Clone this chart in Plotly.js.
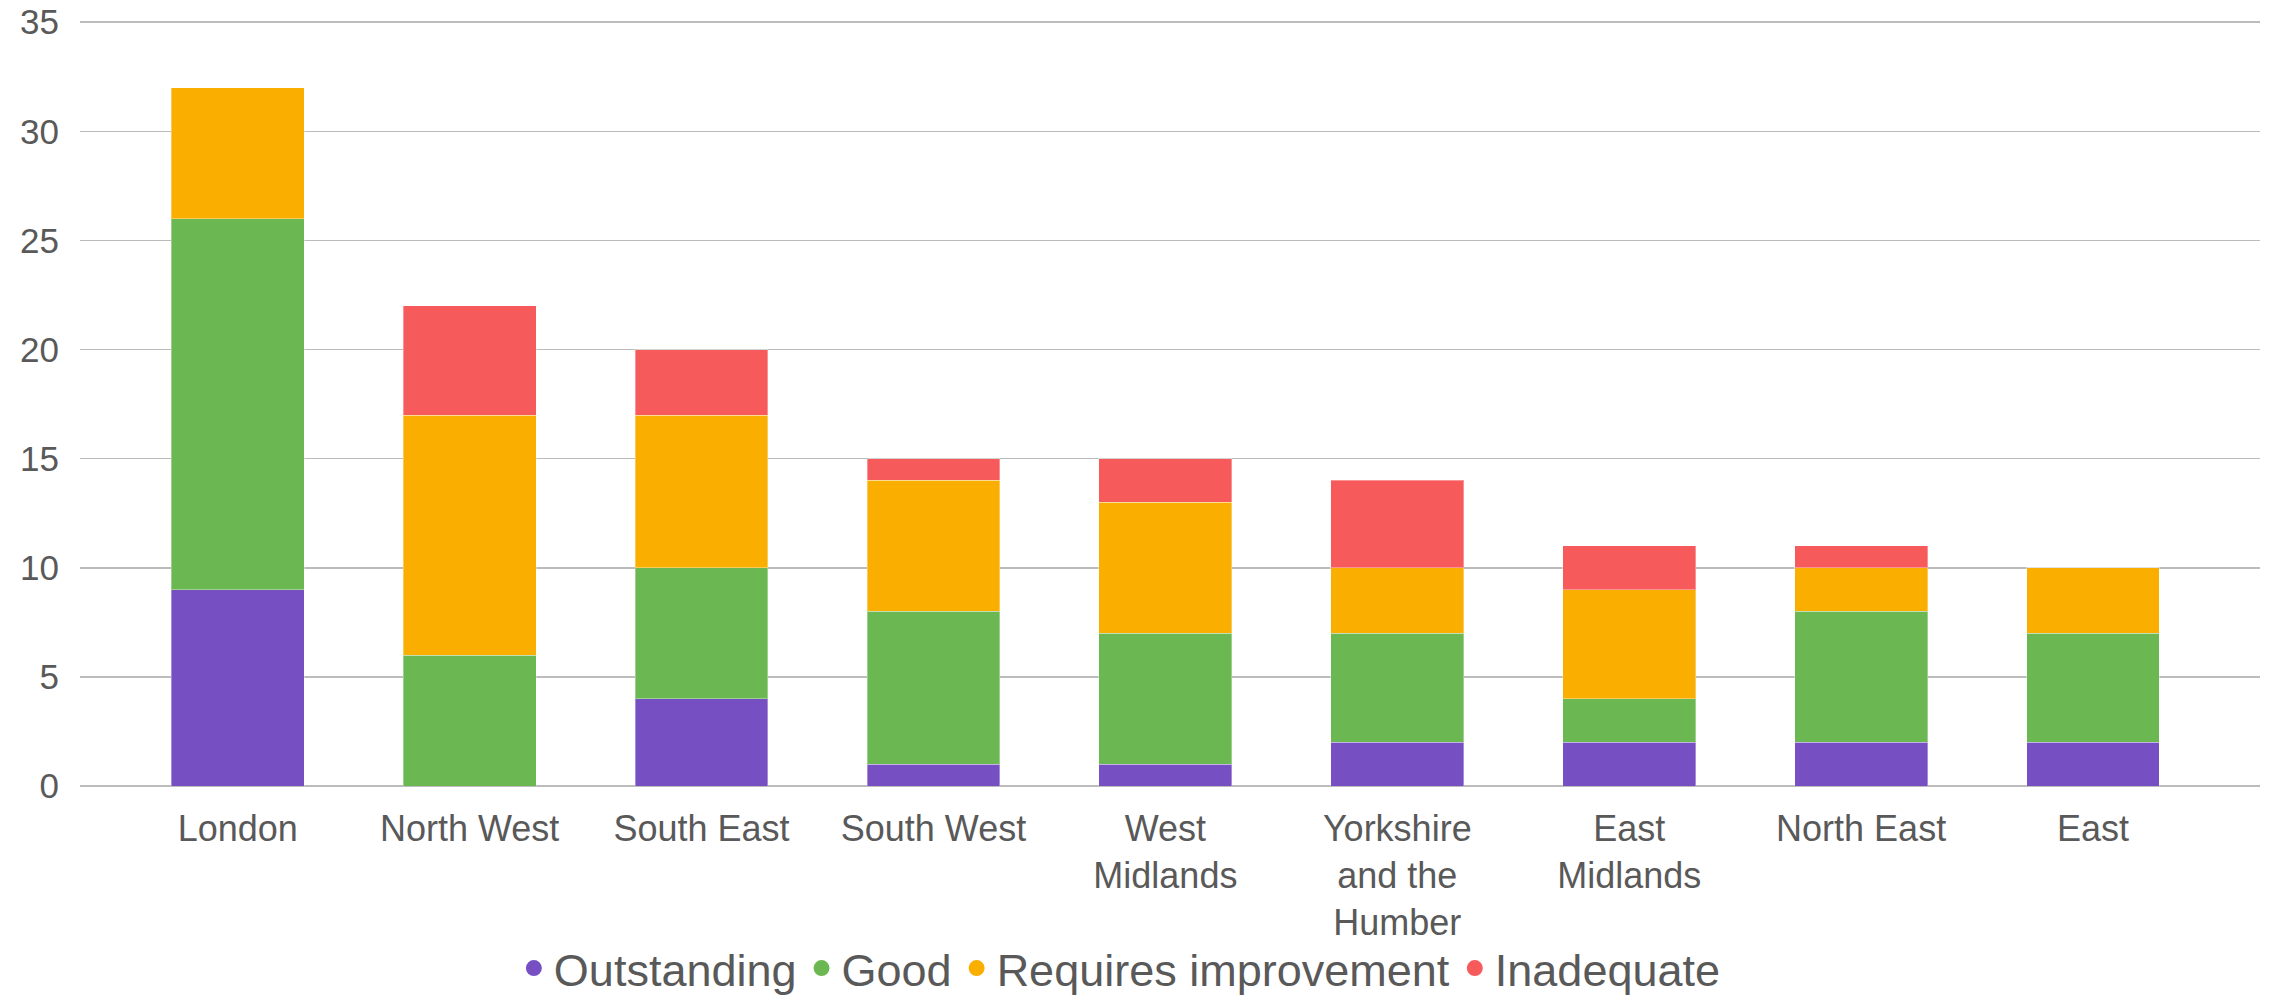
<!DOCTYPE html>
<html>
<head>
<meta charset="utf-8">
<script src="https://cdn.plot.ly/plotly-3.0.1.min.js"></script>
<style>html,body{margin:0;padding:0;background:#fff;}#chart{width:2277px;height:1002px;}</style>
</head>
<body>
<div id="chart"></div>
<script>
const regions = ["London", "North West", "South East", "South West", "West Midlands", "Yorkshire and the Humber", "East Midlands", "North East", "East"];
const regionLabels = ["London", "North West", "South East", "South West", "West<br>Midlands", "Yorkshire<br>and the<br>Humber", "East<br>Midlands", "North East", "East"];
const outstanding = [9, 0, 4, 1, 1, 2, 2, 2, 2];
const good = [17, 6, 6, 7, 6, 5, 2, 6, 5];
const requiresImprovement = [6, 11, 7, 6, 6, 3, 5, 2, 3];
const inadequate = [0, 5, 3, 1, 2, 4, 2, 1, 0];
const seriesNames = ["Outstanding", "Good", "Requires improvement", "Inadequate"];
const colors = ["#7650c2", "#6bb751", "#f9ae00", "#f75a5a"];
const yTicks = [0, 5, 10, 15, 20, 25, 30, 35];

const seriesValues = [outstanding, good, requiresImprovement, inadequate];
const traces = [];
seriesValues.forEach((vals, i) => {
  traces.push({
    type: "bar",
    name: seriesNames[i],
    x: regions,
    y: vals,
    marker: {color: colors[i], line: {color: "rgba(255,255,255,0.35)", width: 1}},
    showlegend: false,
    hoverinfo: "x+y+name"
  });
});
seriesValues.forEach((vals, i) => {
  traces.push({
    type: "scatter",
    mode: "markers",
    name: seriesNames[i],
    x: [null],
    y: [null],
    marker: {color: colors[i], size: 22, symbol: "circle"},
    showlegend: true
  });
});

const font = {family: "Liberation Sans, Arial, sans-serif", color: "#595959"};

const layout = {
  width: 2277,
  height: 1002,
  paper_bgcolor: "#ffffff",
  plot_bgcolor: "#ffffff",
  margin: {l: 80, r: 17, t: 20, b: 216, autoexpand: false},
  barmode: "stack",
  bargap: 0.427,
  font: font,
  showlegend: true,
  xaxis: {
    type: "category",
    categoryorder: "array",
    categoryarray: regions,
    tickvals: regions,
    ticktext: regionLabels,
    range: [-0.68, 8.72],
    showgrid: false,
    zeroline: false,
    showline: false,
    ticks: "",
    automargin: false,
    tickfont: {family: font.family, color: "#595959", size: 36},
    ticklabelstandoff: 18
  },
  yaxis: {
    range: [0, 35.1],
    tickvals: yTicks,
    ticktext: yTicks.map(String),
    showgrid: true,
    gridcolor: "#bcbcbc",
    gridwidth: 1.6,
    zeroline: true,
    zerolinecolor: "#bcbcbc",
    zerolinewidth: 1.6,
    showline: false,
    ticks: "",
    automargin: false,
    tickfont: {family: font.family, color: "#595959", size: 35},
    ticklabelstandoff: 20
  },
  legend: {
    orientation: "h",
    traceorder: "normal",
    x: 0.477,
    xanchor: "center",
    y: -0.238,
    yanchor: "middle",
    font: {family: font.family, color: "#595959", size: 45},
    itemwidth: 30,
    bgcolor: "rgba(0,0,0,0)"
  }
};

Plotly.newPlot("chart", traces, layout, {displayModeBar: false, staticPlot: true});
</script>
</body>
</html>
